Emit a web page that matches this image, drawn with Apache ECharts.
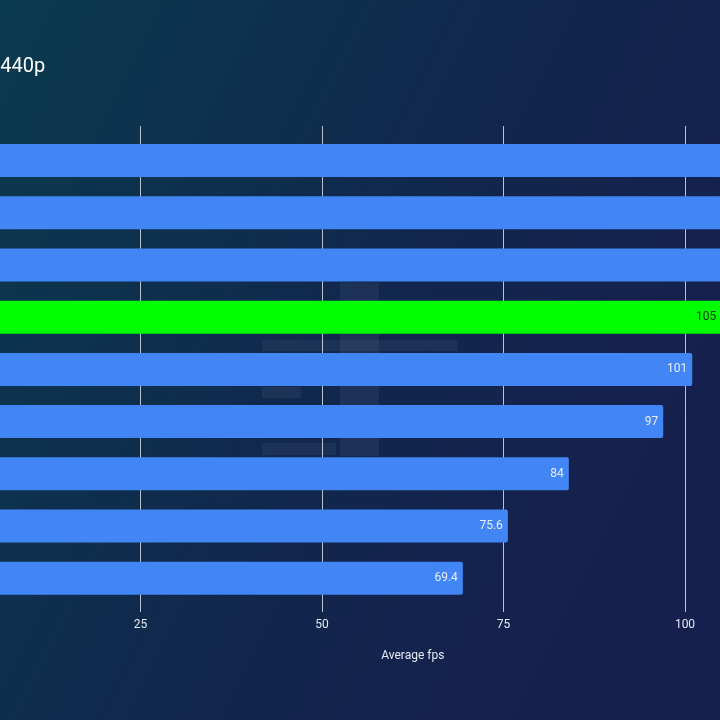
<!DOCTYPE html>
<html>
<head>
<meta charset="utf-8">
<script src="https://cdn.jsdelivr.net/npm/echarts@6/dist/echarts.min.js"></script>
<style>
  html, body { margin: 0; padding: 0; }
  #chart { width: 720px; height: 720px; }
</style>
</head>
<body>
<div id="chart"></div>
<script>
// cards, fastest first (names sit off the left edge of the crop)
const categories = ['Card 1', 'Card 2', 'Card 3', 'Card 4', 'Card 5', 'Card 6', 'Card 7', 'Card 8', 'Card 9']
const avgFps = [121, 115, 110, 105, 101, 97, 84, 75.6, 69.4]
const highlightIndex = 3
const xTicks = [0, 25, 50, 75, 100, 125]

const blue = '#4285f4'
const green = '#00ff00'
const gridLine = '#b9c2d0'
const wm = 'rgba(255,255,255,0.05)'

const chart = echarts.init(document.getElementById('chart'))

// the picture is a crop: axis zero sits ~41px left of the frame
const gridLeft = -41
const gridRight = -146.5

const option = {
  animation: false,
  backgroundColor: {
    type: 'linear', x: 0, y: 0, x2: 1, y2: 0.5,
    colorStops: [
      { offset: 0, color: '#0a3a4e' },
      { offset: 0.6, color: '#11274d' },
      { offset: 1, color: '#16204e' },
    ],
  },
  graphic: [
    {
      type: 'text',
      x: -11,
      y: 57,
      style: { text: '1440p', fill: '#ffffff', fontSize: 20, fontFamily: 'Roboto' },
    },
    {
      type: 'group',
      z: 1,
      silent: true,
      children: [
        { type: 'rect', shape: { x: 340, y: 283, width: 39, height: 173 }, style: { fill: wm } },
        { type: 'rect', shape: { x: 262, y: 340, width: 196, height: 11 }, style: { fill: wm } },
        { type: 'rect', shape: { x: 262, y: 387, width: 39, height: 11 }, style: { fill: wm } },
        { type: 'rect', shape: { x: 262, y: 443, width: 74, height: 12 }, style: { fill: wm } },
      ],
    },
  ],
  grid: [
    // bars
    { left: gridLeft, right: gridRight, top: 134.4, bottom: 115.6, containLabel: false, outerBoundsMode: 'none' },
    // gridlines and tick labels, a little taller than the bar band
    { left: gridLeft, right: gridRight, top: 126, bottom: 108, containLabel: false, outerBoundsMode: 'none' },
  ],
  xAxis: [
    {
      gridIndex: 0,
      type: 'value',
      min: xTicks[0],
      max: xTicks[xTicks.length - 1],
      interval: 25,
      show: false,
    },
    {
      gridIndex: 1,
      type: 'value',
      min: xTicks[0],
      max: xTicks[xTicks.length - 1],
      interval: 25,
      name: 'Average fps',
      nameLocation: 'middle',
      nameGap: 38,
      nameTextStyle: { color: '#e4e9f2', fontSize: 12, fontFamily: 'Liberation Sans Narrow, Roboto' },
      axisLine: { show: false },
      axisTick: { show: false },
      axisLabel: { color: '#e4e9f2', fontSize: 12, margin: 7, fontFamily: 'Liberation Sans Narrow, Roboto' },
      splitLine: { show: true, lineStyle: { color: gridLine, width: 1 } },
    },
  ],
  yAxis: [
    {
      gridIndex: 0,
      type: 'category',
      data: categories,
      inverse: true,
      axisLine: { show: false },
      axisTick: { show: false },
      axisLabel: { show: false },
    },
    { gridIndex: 1, type: 'value', show: false },
  ],
  series: [
    {
      type: 'bar',
      xAxisIndex: 0,
      yAxisIndex: 0,
      barWidth: 33,
      data: avgFps.map((v, i) => ({
        value: v,
        itemStyle: { color: i === highlightIndex ? green : blue },
        label: { color: i === highlightIndex ? '#15301a' : '#e8eef8' },
      })),
      itemStyle: { borderRadius: [0, 2, 2, 0] },
      label: {
        show: true,
        position: 'insideRight',
        distance: 5,
        fontSize: 12,
        fontFamily: 'Roboto',
      },
    },
  ],
}

chart.setOption(option)
</script>
</body>
</html>
